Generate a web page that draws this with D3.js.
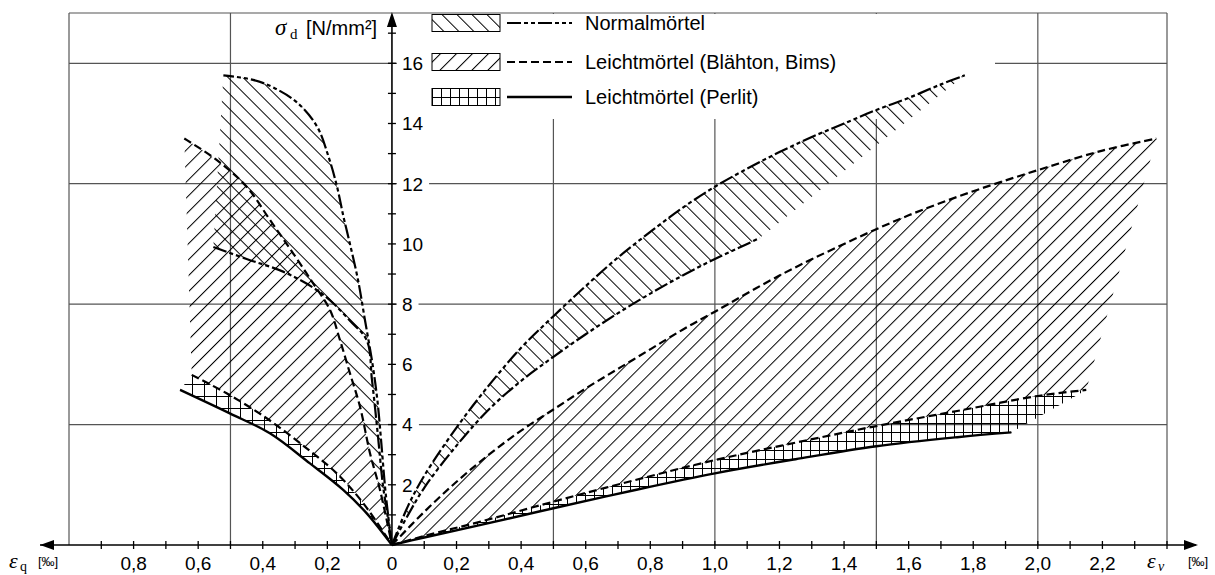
<!DOCTYPE html>
<html>
<head>
<meta charset="utf-8">
<script src="https://cdn.jsdelivr.net/npm/d3@7"></script>
<style>
  body { margin: 0; background: #fff; }
  svg { display: block; font-family: "Liberation Sans", Arial, sans-serif; }
</style>
</head>
<body>
<svg id="chart" width="1215" height="575"></svg>
<script>
// right side: eps_v in permille, left side: eps_q in permille (stored positive), stress in N/mm2
const normalV_upper = [[0,0],[0.05,1.3],[0.1,2.3],[0.2,3.9],[0.3,5.3],[0.4,6.55],[0.5,7.6],[0.6,8.6],[0.7,9.55],[0.8,10.4],[0.9,11.2],[1.0,11.9],[1.1,12.5],[1.2,13.05],[1.3,13.55],[1.4,14.0],[1.5,14.45],[1.6,14.85],[1.7,15.3],[1.774,15.6]];
const normalV_lower = [[0,0],[0.05,1.0],[0.1,1.9],[0.2,3.3],[0.3,4.5],[0.4,5.45],[0.5,6.25],[0.6,7.0],[0.7,7.7],[0.8,8.35],[0.9,8.95],[1.0,9.5],[1.1,10.0],[1.139,10.2]];
const blaehV_upper = [[0,0],[0.1,1.1],[0.2,2.1],[0.3,3.0],[0.4,3.8],[0.5,4.5],[0.6,5.2],[0.7,5.85],[0.8,6.5],[0.9,7.15],[1.0,7.75],[1.2,8.95],[1.4,10.0],[1.6,10.95],[1.8,11.75],[2.0,12.45],[2.2,13.1],[2.367,13.5]];
const blaehV_lower = [[0,0],[0.1,0.3],[0.272,0.77],[0.5,1.44],[0.75,2.15],[1.0,2.82],[1.25,3.4],[1.5,3.95],[1.75,4.45],[2.0,4.95],[2.15,5.15]];
const perlitV = [[0,0],[0.1,0.25],[0.272,0.66],[0.5,1.22],[0.75,1.82],[1.0,2.38],[1.25,2.85],[1.5,3.28],[1.75,3.58],[1.918,3.74]];

const normalQ_outer = [[0,0],[0.012,1.0],[0.022,2.0],[0.033,3.4],[0.045,4.8],[0.06,6.0],[0.084,7.5],[0.105,8.8],[0.13,10.0],[0.15,10.9],[0.17,11.9],[0.195,12.85],[0.232,13.9],[0.294,14.7],[0.368,15.2],[0.43,15.45],[0.522,15.6]];
const normalQ_inner = [[0.553,9.9],[0.45,9.5],[0.337,9.08],[0.244,8.55],[0.187,8.08],[0.13,7.45],[0.078,6.8],[0.062,5.5],[0.045,3.8],[0.028,2.0],[0.014,1.0],[0,0]];
const blaehQ_outer = [[0.643,13.5],[0.543,12.79],[0.45,11.9],[0.378,10.8],[0.306,9.69],[0.244,8.69],[0.192,7.81],[0.161,6.81],[0.13,5.7],[0.099,4.6],[0.068,3.05],[0.037,1.83],[0,0]];
const blaehQ_inner = [[0.62,5.65],[0.512,5.04],[0.388,4.21],[0.264,3.21],[0.171,2.38],[0.089,1.39],[0,0]];
const perlitQ = [[0.656,5.15],[0.502,4.37],[0.378,3.71],[0.254,2.71],[0.151,1.83],[0.078,1.05],[0,0]];

const xLabels = [-0.8, -0.6, -0.4, -0.2, 0, 0.2, 0.4, 0.6, 0.8, 1.0, 1.2, 1.4, 1.6, 1.8, 2.0, 2.2];
const yLabels = [2, 4, 6, 8, 10, 12, 14, 16];
const xGrid = [-1, -0.5, 0.5, 1.0, 1.5, 2.0, 2.4];
const yGrid = [4, 8, 12, 16];
const legendNames = ['Normalmörtel', 'Leichtmörtel (Blähton, Bims)', 'Leichtmörtel (Perlit)'];

const x = d3.scaleLinear().domain([-1, 2.4]).range([69, 1167]);
const y = d3.scaleLinear().domain([0, 17.67]).range([545, 13]);

const svg = d3.select('#chart');
const defs = svg.append('defs');

// hatch patterns
function hatch(id, angle, size) {
  const p = defs.append('pattern').attr('id', id)
    .attr('patternUnits', 'userSpaceOnUse')
    .attr('width', size).attr('height', size)
    .attr('patternTransform', `rotate(${angle})`);
  p.append('line').attr('x1', 0.5).attr('y1', 0).attr('x2', 0.5).attr('y2', size)
    .attr('stroke', '#000').attr('stroke-width', 1);
}
function grid(id, size) {
  const p = defs.append('pattern').attr('id', id)
    .attr('patternUnits', 'userSpaceOnUse')
    .attr('width', size).attr('height', size);
  p.append('path').attr('d', `M0,0.5H${size}M0.5,0V${size}`)
    .attr('stroke', '#000').attr('stroke-width', 1).attr('fill', 'none');
}
hatch('hBack', -45, 10.6);   // "\"  Normalmörtel
hatch('hFwd', 45, 11.3);     // "/"  Blähton
grid('gridR', 9);
grid('gridL', 12);

const gGrid = svg.append('g');
const gMask = svg.append('g');
const gFill = svg.append('g');
const gCurve = svg.append('g');
const gAxis = svg.append('g');
const gText = svg.append('g');
const gLegend = svg.append('g');

// grid lines + frame
gGrid.selectAll('line.v').data(xGrid).enter().append('line')
  .attr('x1', d => x(d)).attr('x2', d => x(d))
  .attr('y1', y(0)).attr('y2', y.range()[1])
  .attr('stroke', '#555').attr('stroke-width', 1.2);
gGrid.selectAll('line.h').data(yGrid.concat([y.domain()[1]])).enter().append('line')
  .attr('x1', x(-1)).attr('x2', x(2.4))
  .attr('y1', d => y(d)).attr('y2', d => y(d))
  .attr('stroke', '#555').attr('stroke-width', 1.2);

// legend background covers the grid
gMask.append('rect').attr('x', 420).attr('y', 14).attr('width', 575).attr('height', 105).attr('fill', '#fff');

const neg = a => a.map(([q, s]) => [-q, s]);
const line = d3.line().x(d => x(d[0])).y(d => y(d[1])).curve(d3.curveCatmullRom.alpha(0.5));
const band = (a, b) => line(a) + line(b).replace(/^M/, 'L') + 'Z';

// left normal band: inner boundary follows Blähton outer line below the crossing
const normalQ_bound = normalQ_inner.filter(d => d[1] >= 8.55).concat(blaehQ_outer.filter(d => d[1] < 8.55));

const fills = [
  { d: band(blaehV_upper, blaehV_lower.slice().reverse()), p: 'hFwd' },
  { d: band(neg(blaehQ_outer), neg(blaehQ_inner).reverse()), p: 'hFwd' },
  { d: band(normalV_upper, normalV_lower.slice().reverse()), p: 'hBack' },
  { d: band(neg(normalQ_outer), neg(normalQ_bound)), p: 'hBack' },
  { d: band(blaehV_lower, perlitV.slice().reverse()), p: 'gridR' },
  { d: band(neg(blaehQ_inner), neg(perlitQ).reverse()), p: 'gridL' }
];
gFill.selectAll('path').data(fills).enter().append('path')
  .attr('d', d => d.d).attr('fill', d => `url(#${d.p})`).attr('stroke', 'none');

const styles = {
  normal: { dash: '14,3,4,3,4,3', w: 2.2 },
  blaeh: { dash: '8,4', w: 2.2 },
  perlit: { dash: null, w: 2.4 }
};
const curves = [
  { pts: normalV_upper, s: 'normal' }, { pts: normalV_lower, s: 'normal' },
  { pts: neg(normalQ_outer), s: 'normal' }, { pts: neg(normalQ_inner), s: 'normal' },
  { pts: blaehV_upper, s: 'blaeh' }, { pts: blaehV_lower, s: 'blaeh' },
  { pts: neg(blaehQ_outer), s: 'blaeh' }, { pts: neg(blaehQ_inner), s: 'blaeh' },
  { pts: perlitV, s: 'perlit' }, { pts: neg(perlitQ), s: 'perlit' }
];
gCurve.selectAll('path').data(curves).enter().append('path')
  .attr('d', d => line(d.pts)).attr('fill', 'none').attr('stroke', '#000')
  .attr('stroke-width', d => styles[d.s].w)
  .attr('stroke-dasharray', d => styles[d.s].dash);

// axes with arrows
gAxis.append('line').attr('x1', 40).attr('x2', 1196).attr('y1', y(0)).attr('y2', y(0))
  .attr('stroke', '#000').attr('stroke-width', 1.6);
gAxis.append('line').attr('x1', x(0)).attr('x2', x(0)).attr('y1', y(0)).attr('y2', 15)
  .attr('stroke', '#000').attr('stroke-width', 1.6);
gAxis.append('path').attr('d', `M40,${y(0)}L54,${y(0) - 5}L54,${y(0) + 5}Z`);
gAxis.append('path').attr('d', `M1198,${y(0)}L1184,${y(0) - 5}L1184,${y(0) + 5}Z`);
gAxis.append('path').attr('d', `M${x(0)},12L${x(0) - 5},27L${x(0) + 5},27Z`);

const xTicks = d3.range(-9, 25).filter(i => i !== 0).map(i => i / 10);
gAxis.selectAll('line.xt').data(xTicks).enter().append('line')
  .attr('x1', d => x(d)).attr('x2', d => x(d))
  .attr('y1', y(0) - 4).attr('y2', y(0) + 4)
  .attr('stroke', '#000').attr('stroke-width', 1.3);
const yTicks = d3.range(1, 18);
gAxis.selectAll('line.yt').data(yTicks).enter().append('line')
  .attr('x1', x(0) - 4).attr('x2', x(0) + 4)
  .attr('y1', d => y(d)).attr('y2', d => y(d))
  .attr('stroke', '#000').attr('stroke-width', 1.3);

// tick labels
const fmt = v => v === 0 ? '0' : Math.abs(v).toFixed(1).replace('.', ',');
gText.selectAll('text.xl').data(xLabels).enter().append('text')
  .attr('x', d => x(d)).attr('y', 570)
  .attr('text-anchor', 'middle').attr('font-size', 19).text(fmt);
const yl = gText.selectAll('text.yl').data(yLabels).enter().append('text')
  .attr('x', x(0) + 10).attr('y', d => y(d)).attr('dy', '0.36em')
  .attr('font-size', 19).text(d => d);
yl.each(function (d) {
  const b = this.getBBox();
  gMask.append('rect').attr('x', x(0) + 5).attr('y', y(d) - 9)
    .attr('width', b.width + 11).attr('height', 18).attr('fill', '#fff');
});

// axis titles
const serif = '"Liberation Serif", "DejaVu Serif", serif';
gText.append('text').attr('x', 275).attr('y', 35).attr('font-family', serif)
  .attr('font-style', 'italic').attr('font-size', 23).text('σ');
gText.append('text').attr('x', 290).attr('y', 39).attr('font-family', serif)
  .attr('font-size', 15).text('d');
gText.append('text').attr('x', 306).attr('y', 35).attr('font-size', 20).text('[N/mm²]');

gText.append('text').attr('x', 9).attr('y', 568).attr('font-family', serif)
  .attr('font-style', 'italic').attr('font-size', 22).text('ε');
gText.append('text').attr('x', 20).attr('y', 571).attr('font-family', serif)
  .attr('font-size', 14).text('q');
gText.append('text').attr('x', 38).attr('y', 566).attr('font-size', 13).text('[‰]');

gText.append('text').attr('x', 1147).attr('y', 568).attr('font-family', serif)
  .attr('font-style', 'italic').attr('font-size', 22).text('ε');
gText.append('text').attr('x', 1158).attr('y', 571).attr('font-family', serif)
  .attr('font-style', 'italic').attr('font-size', 14).text('v');
gText.append('text').attr('x', 1188).attr('y', 566).attr('font-size', 13).text('[‰]');

// legend
const rowY = [23, 62, 97];
const legPat = ['hBack', 'hFwd', 'gridR'];
const legStyle = ['normal', 'blaeh', 'perlit'];
const rows = gLegend.selectAll('g').data(legendNames).enter().append('g')
  .attr('transform', (d, i) => `translate(0,${rowY[i]})`);
rows.append('rect').attr('x', 432).attr('y', -8.5).attr('width', 68).attr('height', 17)
  .attr('fill', (d, i) => `url(#${legPat[i]})`).attr('stroke', '#000').attr('stroke-width', 1);
rows.append('line').attr('x1', 507).attr('x2', 572).attr('y1', 0).attr('y2', 0)
  .attr('stroke', '#000')
  .attr('stroke-width', (d, i) => styles[legStyle[i]].w)
  .attr('stroke-dasharray', (d, i) => styles[legStyle[i]].dash);
rows.append('text').attr('x', 585).attr('y', 0).attr('dy', '0.36em')
  .attr('font-size', 20).text(d => d);
</script>
</body>
</html>
